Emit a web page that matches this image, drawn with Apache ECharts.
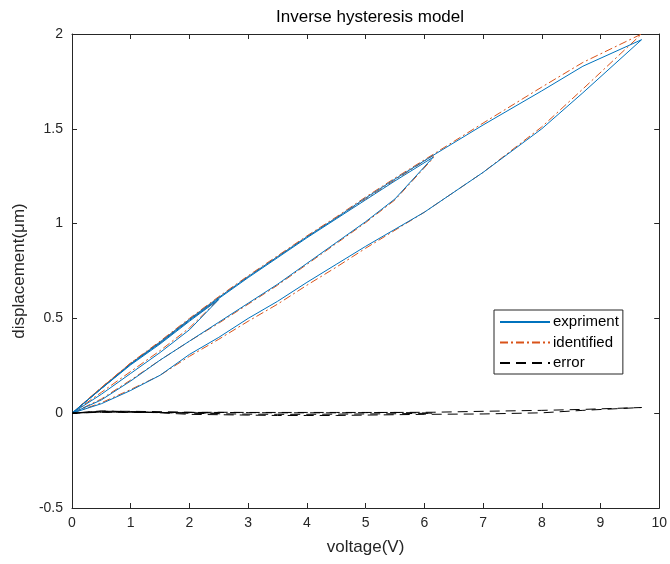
<!DOCTYPE html>
<html><head><meta charset="utf-8">
<script src="https://cdn.jsdelivr.net/npm/echarts@6/dist/echarts.min.js"></script>
<style>html,body{margin:0;padding:0;background:#fff}#c{width:670px;height:564px}</style>
</head><body><div id="c"></div>
<script>
// voltage (V) sequence: small loop, middle loop, major loop
const smallUpV = [0,0.5,1,1.5,2,2.5];
const smallDownV = [2.5,2,1.5,1,0.5,0];
const midUpV = [0,0.5,1,1.5,2,2.5,3,3.5,4,4.5,5,5.5,6.15];
const midDownV = [6.15,5.5,5,4.5,4,3.5,3,2.5,2,1.5,1,0.5,0];
const majUpV = [0,0.5,1,1.5,2,2.5,3,3.5,4,4.5,5,5.5,6,7,8,8.7,9.7];
const majDownV = [9.7,8.7,8,7,6.15,5.5,5,4.5,4,3.5,3,2.5,2,1.5,1,0.5,0];

// experiment displacement (um)
const expSmallUp = [0,0.10,0.21,0.32,0.44,0.60];
const expSmallDown = [0.60,0.485,0.365,0.255,0.13,0];
const expMidUp = [0,0.07,0.17,0.28,0.38,0.48,0.58,0.68,0.79,0.90,1.01,1.13,1.35];
const expMidDown = [1.35,1.225,1.125,1.025,0.925,0.82,0.715,0.605,0.49,0.37,0.26,0.13,0];
const expMajUp = [0,0.05,0.12,0.20,0.31,0.40,0.50,0.59,0.69,0.785,0.88,0.97,1.06,1.27,1.50,1.69,1.97];
const expMajDown = [1.97,1.83,1.70,1.52,1.36,1.235,1.135,1.03,0.93,0.825,0.72,0.61,0.495,0.375,0.26,0.13,0];

// identified displacement (um)
const idSmallUp = [0,0.11,0.22,0.33,0.45,0.60];
const idSmallDown = [0.605,0.49,0.37,0.26,0.135,0];
const idMidUp = [0,0.075,0.175,0.28,0.38,0.475,0.575,0.675,0.785,0.895,1.005,1.125,1.345];
const idMidDown = [1.36,1.23,1.13,1.03,0.93,0.825,0.72,0.61,0.495,0.375,0.265,0.135,0];
const idMajUp = [0,0.055,0.125,0.20,0.30,0.39,0.485,0.575,0.675,0.77,0.87,0.965,1.06,1.27,1.51,1.71,2.0];
const idMajDown = [2.0,1.85,1.72,1.53,1.365,1.24,1.14,1.035,0.935,0.83,0.725,0.615,0.50,0.38,0.265,0.135,0];

// error (um)
const errSmallUp = [0,0.01,0.01,0.008,0.005,0];
const errSmallDown = [0,0.002,0.003,0.005,0.005,0];
const errMidUp = [0,0.01,0.008,0.004,0,-0.003,-0.005,-0.006,-0.006,-0.005,-0.004,-0.003,0];
const errMidDown = [0.008,0.004,0.003,0.002,0.002,0.002,0.003,0.004,0.004,0.004,0.005,0.006,0];
const errMajUp = [0,0.012,0.008,0.002,-0.006,-0.008,-0.01,-0.012,-0.012,-0.012,-0.01,-0.008,-0.006,-0.004,0.002,0.015,0.03];
const errMajDown = [0.03,0.02,0.015,0.01,0.005,0.004,0.004,0.004,0.004,0.004,0.004,0.005,0.004,0.004,0.005,0.006,0];

const xTicks = [0,1,2,3,4,5,6,7,8,9,10];
const yTicks = [-0.5,0,0.5,1,1.5,2];

function pairs(vs, ds){ return vs.map((v,i)=>[v, ds[i]]); }
const V = [smallUpV, smallDownV, midUpV, midDownV, majUpV, majDownV];
function build(arrs){ let out=[]; arrs.forEach((a,k)=>{ out = out.concat(pairs(V[k], a)); }); return out; }

const expData = build([expSmallUp, expSmallDown, expMidUp, expMidDown, expMajUp, expMajDown]);
const idData = build([idSmallUp, idSmallDown, idMidUp, idMidDown, idMajUp, idMajDown]);
const errData = build([errSmallUp, errSmallDown, errMidUp, errMidDown, errMajUp, errMajDown]);

const FONT = 'Liberation Sans';
const AX = '#262626';
const chart = echarts.init(document.getElementById('c'), null, {renderer:'canvas'});
const baseAxis = {
  axisLine:{show:true, onZero:false, lineStyle:{color:AX, width:1}},
  axisTick:{show:true, inside:true, length:5, lineStyle:{color:AX}},
  splitLine:{show:false}
};
chart.setOption({
  animation:false,
  backgroundColor:'#fff',
  title:{text:'Inverse hysteresis model', left:271, top:4,
    textStyle:{fontFamily:FONT, fontSize:17, fontWeight:'normal', color:'#000'}},
  grid:{left:72, right:6, top:34, bottom:56, containLabel:false},
  legend:{orient:'vertical', left:494, top:310,
    backgroundColor:'#fff', borderColor:AX, borderWidth:1, borderRadius:0,
    padding:[4,4,3,5], itemGap:4.5, itemWidth:50, itemHeight:14,
    itemStyle:{opacity:0},
    textStyle:{fontFamily:FONT, fontSize:15, lineHeight:16, color:'#000', padding:[0,0,0,-2]},
    data:['expriment','identified','error']},
  xAxis:[
    Object.assign({type:'value', min:0, max:10, interval:1, position:'bottom',
      name:'voltage(V)', nameLocation:'middle', nameGap:31,
      nameTextStyle:{fontFamily:FONT, fontSize:17, color:AX},
      axisLabel:{fontFamily:FONT, fontSize:14, color:AX, margin:8,
        formatter:v=>xTicks.includes(v)?String(v):''}}, baseAxis),
    Object.assign({type:'value', min:0, max:10, interval:1, position:'top',
      axisLabel:{show:false}}, baseAxis)
  ],
  yAxis:[
    Object.assign({type:'value', min:-0.5, max:2, interval:0.5, position:'left',
      name:'displacement(μm)', nameLocation:'middle', nameGap:44,
      nameTextStyle:{fontFamily:FONT, fontSize:17, color:AX},
      axisLabel:{fontFamily:FONT, fontSize:14, color:AX, margin:9,
        formatter:v=>yTicks.includes(v)?String(v):''}}, baseAxis),
    Object.assign({type:'value', min:-0.5, max:2, interval:0.5, position:'right',
      axisLabel:{show:false}}, baseAxis)
  ],
  series:[
    {name:'expriment', type:'line', data:expData, symbol:'none', z:3,
      lineStyle:{color:'#0072BD', width:1}, itemStyle:{color:'#0072BD'}},
    {name:'identified', type:'line', data:idData, symbol:'none', z:2,
      lineStyle:{color:'#D95319', width:1, type:[8,3,2,3]}, itemStyle:{color:'#D95319'}},
    {name:'error', type:'line', data:errData, symbol:'none', z:4,
      lineStyle:{color:'#000', width:1, type:[10,6]}, itemStyle:{color:'#000'}}
  ]
});
</script></body></html>
